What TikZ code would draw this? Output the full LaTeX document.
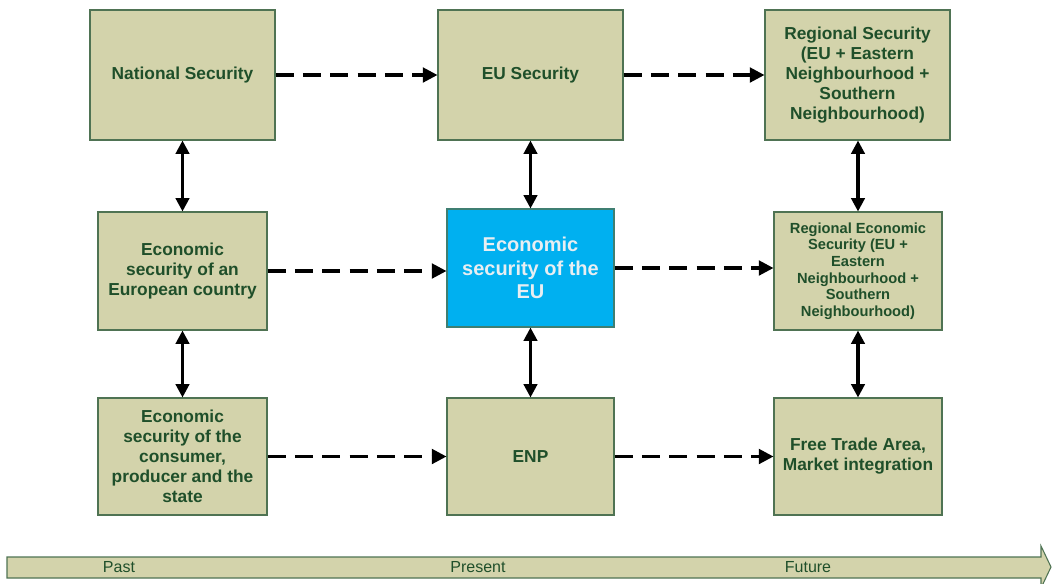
\documentclass[tikz,border=0pt]{standalone}
\usepackage{fontspec}
\setmainfont{Liberation Sans}
\usetikzlibrary{arrows.meta}
\definecolor{boxfill}{HTML}{D3D3AB}
\definecolor{boxline}{HTML}{4F7353}
\definecolor{boxtext}{HTML}{1F4F2A}
\definecolor{bluefill}{HTML}{00B0F0}
\definecolor{bluetext}{HTML}{E8EEF2}
\tikzset{
  box/.style={draw=boxline, line width=0.8pt, fill=boxfill, text=boxtext, align=center,
    font=\bfseries\fontsize{13}{15}\selectfont, inner sep=0pt},
  bluebox/.style={box, fill=bluefill, text=bluetext, draw=boxline!80!bluefill,
    font=\bfseries\fontsize{15}{17.6}\selectfont},
  dasharrow/.style={line width=2.3pt, dash pattern=on 13.5pt off 7pt,
    -{Triangle[length=11pt,width=11pt]}},
  botharrow/.style={line width=2.3pt,
    {Triangle[length=10pt,width=10pt]}-{Triangle[length=10pt,width=10pt]}},
  timelabel/.style={text=boxtext, font=\fontsize{12}{14}\selectfont}
}
\begin{document}
\begin{tikzpicture}[x=0.75pt,y=-0.75pt]
\useasboundingbox (0,0) rectangle (1052,583);
\clip (0,0) rectangle (1052,583);
% top row
\node[box, minimum width=138.75pt, minimum height=97.5pt] (ns) at (182.5,75) {National Security};
\node[box, minimum width=138.75pt, minimum height=97.5pt] (eus) at (530.5,75) {EU Security};
\node[box, minimum width=138.75pt, minimum height=97.5pt] (rs) at (857.5,75) {Regional Security\\(EU + Eastern\\Neighbourhood +\\Southern\\Neighbourhood)};
% middle row
\node[box, minimum width=126.75pt, minimum height=88.5pt] (esc) at (182.5,271) {Economic\\security of an\\European country};
\node[bluebox, minimum width=125.25pt, minimum height=88.5pt] (eseu) at (530.5,268) {Economic\\security of the\\EU};
\node[box, minimum width=126pt, minimum height=88.5pt, font=\bfseries\fontsize{11}{12.4}\selectfont] (res) at (858,271) {Regional Economic\\Security (EU +\\Eastern\\Neighbourhood +\\Southern\\Neighbourhood)};
% bottom row
\node[box, minimum width=126.75pt, minimum height=87.75pt] (escp) at (182.5,456.5) {Economic\\security of the\\consumer,\\producer and the\\state};
\node[box, minimum width=125.25pt, minimum height=87.75pt] (enp) at (530.5,456.5) {ENP};
\node[box, minimum width=126pt, minimum height=87.75pt] (fta) at (858,456.5) {Free Trade Area,\\Market integration};
% dashed arrows
\draw[dasharrow] (ns.east) -- (eus.west);
\draw[dasharrow] (eus.east) -- (rs.west);
\draw[dasharrow] (esc.east) -- (esc.east -| eseu.west);
\draw[dasharrow] (eseu.east) -- (eseu.east -| res.west);
\draw[dasharrow] (escp.east) -- (enp.west);
\draw[dasharrow] (enp.east) -- (fta.west);
% vertical arrows
\draw[botharrow] (ns.south) -- (esc.north);
\draw[botharrow] (esc.south) -- (escp.north);
\draw[botharrow] (eus.south) -- (eseu.north);
\draw[botharrow] (eseu.south) -- (enp.north);
\draw[botharrow] (rs.south -| res.north) -- (res.north);
\draw[botharrow] (res.south) -- (fta.north);
% timeline
\draw[draw=boxline, line width=0.8pt, fill=boxfill]
  (7,557) -- (1041,557) -- (1041,546) -- (1051,567) -- (1041,588) -- (1041,578) -- (7,578) -- cycle;
\node[timelabel] (past) at (119,567) {Past};
\node[timelabel] (present) at (478,567) {Present};
\node[timelabel] (future) at (808,567) {Future};
\end{tikzpicture}
\end{document}
